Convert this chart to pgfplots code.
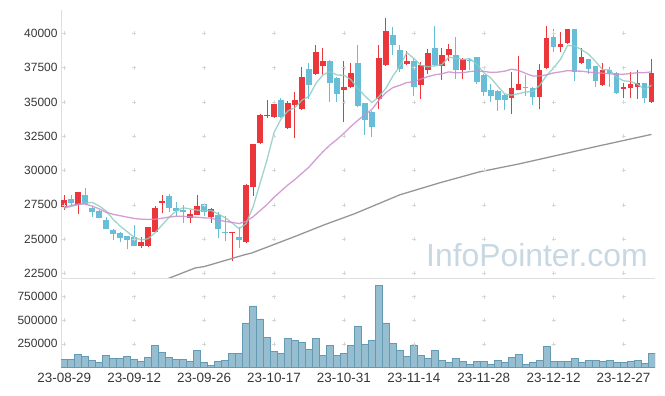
\documentclass[border=0pt]{standalone}
\usepackage{pgfplots}
\pgfplotsset{compat=1.18}
\usepackage{pgfplotstable}
\usepackage{fontspec}
\setmainfont{Liberation Sans}

\definecolor{cred}{RGB}{235,55,60}
\definecolor{cblue}{RGB}{105,190,215}
\definecolor{ma5}{RGB}{140,205,195}
\definecolor{ma20}{RGB}{205,140,205}
\definecolor{malong}{RGB}{150,150,150}
\definecolor{volfill}{RGB}{150,190,208}
\definecolor{voledge}{RGB}{100,155,180}
\definecolor{lblgray}{RGB}{55,55,55}
\definecolor{linegray}{RGB}{222,222,222}
\definecolor{gridgray}{RGB}{215,215,215}
\definecolor{wmcolor}{RGB}{200,216,226}

\pgfplotstableread{
i O H L C
0 27350 28200 27100 27850
2 27450 28400 26800 28400
11 24500 25150 24350 24750
12 24500 25900 24450 25850
13 25550 27400 25500 27250
14 27650 28200 26900 27800
18 26550 27100 26150 26800
19 26750 28200 26750 27400
21 26600 27250 26200 27200
24 25450 25550 23400 25500
26 24750 29000 24700 28950
27 28800 31950 28150 31900
28 32000 34100 31950 34050
29 34000 35150 33800 34050
30 33900 35150 33850 34850
32 33100 35100 33050 34900
33 34800 35700 32350 35150
34 34450 37550 34400 36850
36 37000 39150 36950 38650
37 37650 38950 36950 38000
40 35900 37950 33550 36100
41 36050 37800 36000 37100
45 35200 39150 34450 38200
46 37700 41100 37650 40200
49 37750 38700 37700 38000
51 36200 37900 35200 37700
52 37350 38850 37000 38600
54 37650 38900 36600 38450
55 38450 39200 37950 38850
57 37300 38200 36700 38150
64 35250 37200 34150 36000
65 35900 38350 35850 36300
68 35350 37750 34450 37350
69 37450 40550 37400 39650
71 39000 40100 38650 39250
72 39300 40350 39250 40300
74 37800 38900 37750 38250
77 36200 37800 36150 37350
80 35950 36350 35250 36050
81 36000 37200 35250 36300
82 36050 37350 35200 36350
84 35000 38100 34950 37100
}\upcandles

\pgfplotstableread{
i O H L C
1 27900 28200 27500 27600
3 28200 28700 27500 27550
4 27300 27350 26600 26950
5 27050 27100 26500 26550
6 26400 26600 25700 25750
7 25650 25700 24950 25350
8 25450 25500 24750 25100
9 25200 25250 24250 24950
10 25150 26000 24500 24500
15 28150 28250 27000 27300
16 27250 27700 26700 27050
17 27100 27500 26200 27000
20 27550 27600 26650 27000
22 26750 27000 25050 25750
23 25500 26650 24850 25450
25 25150 25900 24350 24900
31 35150 35250 33850 33900
35 37400 37800 35200 36200
38 38000 38050 35000 36350
39 36750 36800 35000 35600
42 37850 39150 34600 34700
43 34900 34950 32550 33700
44 34250 34300 32450 33150
47 39850 40450 38400 39150
48 38750 39150 37200 37400
50 38000 38200 35450 36100
53 38900 40500 37650 37700
56 38400 39700 36700 37300
58 38050 38200 37300 38000
59 38250 38300 36300 36450
60 36950 37000 35450 35750
61 35900 36300 35000 35400
62 35800 35850 34350 35150
63 35500 35550 34400 35150
66 36100 36950 35400 36000
67 36000 36050 34800 35350
70 39750 40350 38650 39000
73 40300 40350 36500 37200
75 38100 38150 37050 37400
76 37600 37650 36100 36550
78 37300 37550 36100 37100
79 37100 37150 35600 35650
83 36350 36400 34900 35250
}\downcandles

\pgfplotstableread{
i m5 m20
0 27250 27300
1 27380 27450
2 27500 27550
3 27620 27550
4 27670 27400
5 27410 27200
6 27040 26950
7 26430 26800
8 25940 26700
9 25540 26600
10 25130 26500
11 24930 26450
12 25030 26430
13 25460 26450
14 26030 26520
15 26590 26600
16 27050 26660
17 27280 26660
18 27190 26620
19 27110 26590
20 27050 26545
21 27080 26525
22 26830 26390
23 26560 26290
24 26180 26215
25 25760 26130
26 26110 26290
27 27340 26620
28 29060 27070
29 30770 27520
30 32760 28040
31 33750 28500
32 34350 28950
33 34570 29345
34 35130 29800
35 35400 30240
36 36350 30820
37 36970 31370
38 37210 31850
39 36960 32260
40 36940 32715
41 36630 33210
42 35970 33660
43 35440 34070
44 34950 34450
45 35370 35120
46 35990 35680
47 36880 36040
48 37620 36210
49 38590 36410
50 38170 36470
51 37670 36660
52 37560 36845
53 37620 36970
54 37710 37050
55 38260 37185
56 38180 37120
57 38090 37125
58 38150 37210
59 37750 37250
60 37130 37230
61 36750 37150
62 36150 37170
63 35580 37240
64 35490 37385
65 35600 37290
66 35720 37080
67 35760 36890
68 36200 36890
69 36930 36970
70 37470 37115
71 38120 37190
72 39110 37280
73 39080 37250
74 38800 37240
75 38480 37170
76 37940 37130
77 37350 37090
78 37330 37050
79 36810 37010
80 36540 37020
81 36490 37070
82 36290 37130
83 35920 37130
84 36210 37190
}\mavg

\pgfplotstableread{
i m
14 21950
18.7 22887
20.1 23004
25.8 23856
26.8 23980
33 25189
37.2 26040
41.5 26841
48 28225
53.7 29099
59.4 29900
65.1 30483
70.8 31138
76.5 31793
84 32630
}\malongtab

\pgfplotstableread{
i v
0 86000
1 86000
2 139000
3 118000
4 75000
5 54000
6 129000
7 96000
8 96000
9 118000
10 86000
11 64000
12 107000
13 236000
14 161000
15 107000
16 86000
17 86000
18 64000
19 182000
20 54000
21 21000
22 64000
23 75000
24 150000
25 150000
26 471000
27 653000
28 514000
29 321000
30 171000
31 150000
32 311000
33 289000
34 268000
35 193000
36 311000
37 129000
38 236000
39 129000
40 150000
41 236000
42 439000
43 246000
44 289000
45 868000
46 471000
47 257000
48 182000
49 118000
50 236000
51 129000
52 96000
53 182000
54 75000
55 54000
56 96000
57 64000
58 32000
59 64000
60 64000
61 32000
62 75000
63 54000
64 107000
65 139000
66 32000
67 54000
68 75000
69 225000
70 64000
71 64000
72 64000
73 96000
74 54000
75 75000
76 75000
77 64000
78 75000
79 54000
80 54000
81 64000
82 75000
83 43000
84 150000
}\voltab

\pgfplotsset{
  common/.style={
    scale only axis,
    width=594bp,
    xmin=-0.47, xmax=84.5,
    axis x line*=bottom, axis y line*=left,
    axis line style={draw=linegray, line width=0.8bp, -},
    major tick length=0pt,
    tick label style={font=\fontsize{12}{14}\selectfont, text=lblgray},
    scaled y ticks=false,
    yticklabel style={/pgf/number format/fixed, /pgf/number format/1000 sep={}, /pgf/number format/assume math mode=true},
    xtick={0,10,...,80},
  }
}

\begin{document}
\begin{tikzpicture}
\useasboundingbox (-61bp,-118bp) rectangle (604bp,278bp);

\begin{axis}[common,
  at={(0,0)}, anchor=south west,
  height=268bp,
  ymin=22160, ymax=41700,
  ytick={22500,25000,...,40000},
  xticklabels={},
]
\node[anchor=east, text=wmcolor, font=\fontsize{32}{36}\selectfont, inner sep=0pt] at (rel axis cs:0.988,0.085) {InfoPointer.com};
\pgfplotsinvokeforeach{0,10,...,80}{
  \addplot[only marks, mark=+, mark size=2bp, color=gridgray, forget plot] coordinates {(#1,22500)(#1,25000)(#1,27500)(#1,30000)(#1,32500)(#1,35000)(#1,37500)(#1,40000)};
}
% wicks
\addplot[draw=cred, line width=1bp, quiver={u=0, v=\thisrow{H}-\thisrow{L}}, mark=none] table[x=i, y=L] {\upcandles};
\addplot[draw=cblue, line width=1bp, quiver={u=0, v=\thisrow{H}-\thisrow{L}}, mark=none] table[x=i, y=L] {\downcandles};
% bodies
\addplot[draw=cred, line width=5.6bp, quiver={u=0, v=\thisrow{C}-\thisrow{O}}, mark=none] table[x=i, y=O] {\upcandles};
\addplot[draw=cblue, line width=5.6bp, quiver={u=0, v=\thisrow{O}-\thisrow{C}}, mark=none] table[x=i, y=C] {\downcandles};
% moving averages
\addplot[color=ma5, line width=1.3bp, opacity=0.85, mark=none] table[x=i, y=m5] {\mavg};
\addplot[color=ma20, line width=1.3bp, opacity=0.85, mark=none] table[x=i, y=m20] {\mavg};
\addplot[color=malong, line width=1.3bp, mark=none] table[x=i, y=m] {\malongtab};
\end{axis}

\begin{axis}[common,
  at={(0,-2bp)}, anchor=north west,
  height=87.3bp,
  ymin=0, ymax=927000,
  ytick={250000,500000,750000},
  xticklabels={23-08-29,23-09-12,23-09-26,23-10-17,23-10-31,23-11-14,23-11-28,23-12-12,23-12-27},
  xticklabel style={yshift=-2bp, font=\fontsize{13.5}{15}\selectfont},
]
\pgfplotsinvokeforeach{0,10,...,80}{
  \addplot[only marks, mark=+, mark size=2bp, color=gridgray, forget plot] coordinates {(#1,250000)(#1,500000)(#1,750000)};
}
\addplot[ybar, bar width=1, fill=volfill, draw=voledge, line width=0.6bp] table[x=i, y=v] {\voltab};
\end{axis}
\end{tikzpicture}
\end{document}
